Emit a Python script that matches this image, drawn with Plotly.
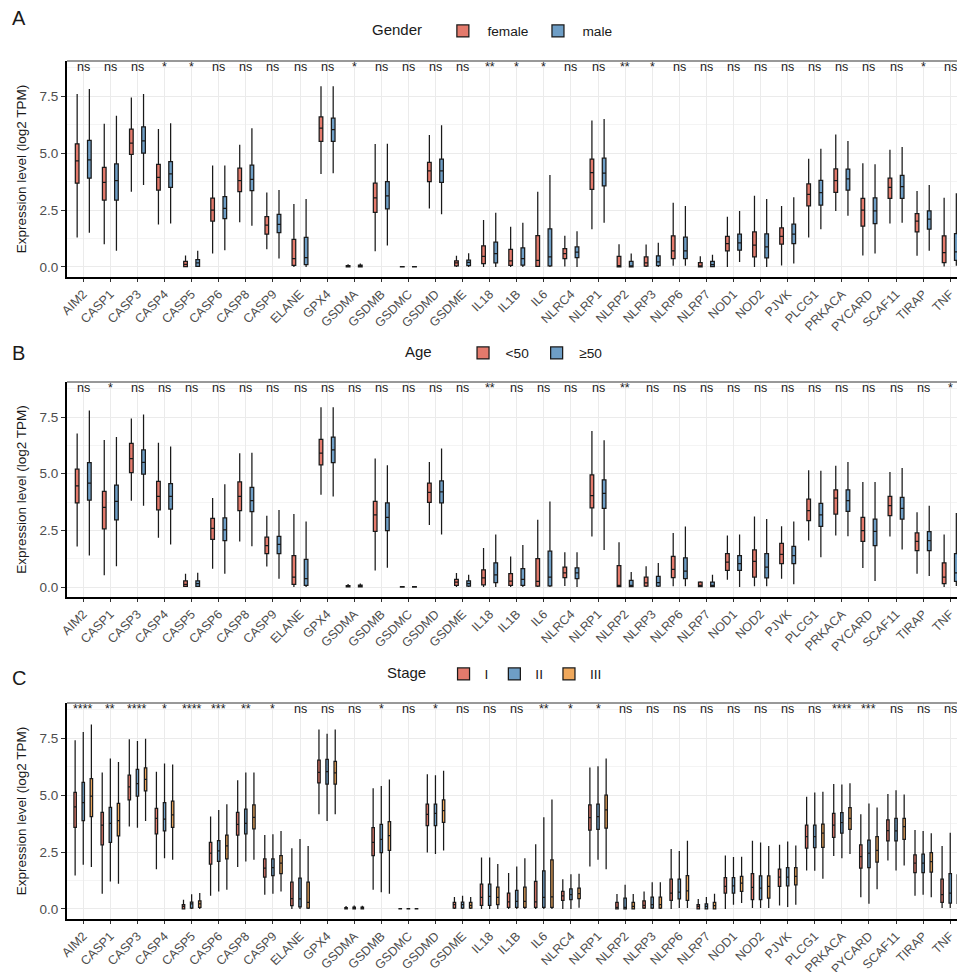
import plotly.graph_objects as go

genes = ["AIM2", "CASP1", "CASP3", "CASP4", "CASP5", "CASP6", "CASP8", "CASP9", "ELANE",
         "GPX4", "GSDMA", "GSDMB", "GSDMC", "GSDMD", "GSDME", "IL18", "IL1B", "IL6",
         "NLRC4", "NLRP1", "NLRP2", "NLRP3", "NLRP6", "NLRP7", "NOD1", "NOD2", "PJVK",
         "PLCG1", "PRKACA", "PYCARD", "SCAF11", "TIRAP", "TNF"]

# significance of group differences per gene
sig_gender = ["ns", "ns", "ns", "*", "*", "ns", "ns", "ns", "ns", "ns", "*", "ns", "ns", "ns", "ns",
              "**", "*", "*", "ns", "ns", "**", "*", "ns", "ns", "ns", "ns", "ns", "ns", "ns", "ns",
              "ns", "*", "ns"]
sig_age = ["ns", "*", "ns", "ns", "ns", "ns", "ns", "ns", "ns", "ns", "ns", "ns", "ns", "ns", "ns",
           "**", "ns", "ns", "ns", "ns", "**", "ns", "ns", "ns", "ns", "ns", "ns", "ns", "ns", "ns",
           "ns", "ns", "*"]
sig_stage = ["****", "**", "****", "*", "****", "***", "**", "*", "ns", "ns", "ns", "*", "ns", "*", "ns",
             "ns", "ns", "**", "*", "*", "ns", "ns", "ns", "ns", "ns", "ns", "ns", "ns", "****", "***",
             "ns", "ns", "ns"]

# ---- Gender: box statistics (log2 TPM) ----
female_low = [1.29, 1.0, 3.31, 1.87, 0.0, 0.59, 1.97, 0.78, 0.0, 4.09, 0.0, 0.69, 0.0, 2.57, 0.0, 0.0, 0.0,
              0.0, 0.02, 1.66, 0.0, 0.0, 0.05, 0.0, 0.0, 0.0, 0.07, 1.29, 2.46, 0.51, 1.91, 0.49, 0.02]
female_q1 = [3.68, 2.94, 4.95, 3.38, 0.02, 2.02, 3.31, 1.44, 0.07, 5.52, 0.01, 2.4, 0.0, 3.75, 0.05, 0.15, 0.07,
             0.03, 0.37, 3.41, 0.01, 0.04, 0.37, 0.01, 0.71, 0.44, 1.0, 2.68, 3.28, 1.79, 3.02, 1.54, 0.19]
female_med = [4.66, 3.72, 5.44, 3.94, 0.12, 2.5, 3.79, 1.84, 0.37, 6.1, 0.03, 3.04, 0.01, 4.22, 0.18, 0.47, 0.27,
              0.29, 0.59, 4.15, 0.06, 0.18, 0.71, 0.05, 1.03, 0.96, 1.35, 3.19, 3.79, 2.5, 3.5, 2.02, 0.63]
female_q3 = [5.41, 4.38, 6.06, 4.51, 0.25, 3.03, 4.34, 2.21, 1.21, 6.59, 0.06, 3.68, 0.02, 4.6, 0.27, 0.93, 0.77,
             1.38, 0.81, 4.74, 0.47, 0.44, 1.37, 0.19, 1.35, 1.54, 1.72, 3.65, 4.31, 3.02, 3.9, 2.35, 1.37]
female_high = [7.6, 6.29, 7.45, 6.06, 0.5, 4.46, 5.37, 3.27, 2.77, 7.94, 0.12, 5.4, 0.04, 5.8, 0.49, 2.06, 1.77,
               3.31, 1.37, 6.44, 1.0, 0.99, 2.82, 0.47, 2.21, 3.13, 2.68, 4.75, 5.82, 4.56, 5.15, 3.34, 3.04]

male_low = [1.5, 0.71, 3.6, 1.91, 0.0, 0.74, 1.81, 0.37, 0.0, 4.12, 0.0, 0.94, 0.0, 2.32, 0.0, 0.0, 0.0,
            0.0, 0.0, 1.94, 0.0, 0.0, 0.05, 0.0, 0.22, 0.0, 0.15, 1.66, 2.25, 0.59, 1.94, 0.71, 0.05]
male_q1 = [3.9, 2.94, 5.0, 3.5, 0.03, 2.13, 3.35, 1.51, 0.1, 5.52, 0.01, 2.55, 0.0, 3.72, 0.06, 0.18, 0.08,
           0.05, 0.41, 3.56, 0.01, 0.06, 0.37, 0.02, 0.74, 0.4, 1.03, 2.72, 3.38, 1.91, 3.02, 1.66, 0.29]
male_med = [4.71, 3.79, 5.54, 4.09, 0.18, 2.57, 3.85, 1.87, 0.41, 6.03, 0.04, 3.12, 0.01, 4.22, 0.2, 0.59, 0.37,
            0.44, 0.65, 4.12, 0.05, 0.22, 0.71, 0.1, 1.06, 0.88, 1.44, 3.27, 3.87, 2.46, 3.53, 2.1, 0.66]
male_q3 = [5.56, 4.53, 6.16, 4.63, 0.32, 3.09, 4.47, 2.31, 1.3, 6.54, 0.08, 3.75, 0.02, 4.74, 0.3, 1.09, 0.84,
           1.68, 0.88, 4.78, 0.25, 0.49, 1.31, 0.25, 1.44, 1.46, 1.88, 3.8, 4.3, 3.04, 4.02, 2.47, 1.47]
male_high = [7.82, 6.64, 7.6, 6.32, 0.71, 4.46, 6.1, 3.38, 2.99, 7.94, 0.15, 5.41, 0.04, 6.23, 0.6, 2.38, 1.94,
             4.04, 1.57, 6.5, 0.59, 1.06, 2.68, 0.54, 2.46, 2.99, 3.06, 5.19, 5.54, 4.51, 5.27, 3.6, 3.24]

# ---- Age ----
young_low = [1.79, 0.52, 3.81, 2.17, 0.0, 0.81, 2.01, 0.91, 0.0, 4.07, 0.0, 0.73, 0.0, 2.74, 0.0, 0.0, 0.0,
             0.0, 0.05, 2.23, 0.0, 0.0, 0.04, 0.0, 0.32, 0.04, 0.37, 2.05, 2.27, 0.84, 2.23, 0.59, 0.0]
young_q1 = [3.71, 2.57, 5.05, 3.41, 0.03, 2.1, 3.37, 1.47, 0.12, 5.39, 0.01, 2.46, 0.0, 3.74, 0.07, 0.1, 0.07,
            0.04, 0.41, 3.49, 0.02, 0.04, 0.41, 0.02, 0.73, 0.44, 1.03, 2.93, 3.22, 2.01, 3.15, 1.61, 0.15]
young_med = [4.47, 3.52, 5.67, 4.0, 0.12, 2.59, 4.0, 1.83, 0.44, 5.91, 0.03, 3.18, 0.01, 4.18, 0.22, 0.4, 0.26,
             0.25, 0.63, 4.03, 0.07, 0.18, 0.78, 0.07, 1.1, 1.13, 1.44, 3.37, 3.93, 2.49, 3.59, 2.01, 0.44]
young_q3 = [5.2, 4.22, 6.34, 4.66, 0.27, 3.03, 4.64, 2.2, 1.39, 6.52, 0.06, 3.78, 0.02, 4.59, 0.34, 0.76, 0.59,
            1.25, 0.88, 4.95, 0.95, 0.44, 1.35, 0.22, 1.47, 1.64, 1.93, 3.88, 4.29, 3.08, 4.0, 2.39, 1.07]
young_high = [6.78, 6.49, 7.44, 6.37, 0.59, 3.93, 5.91, 3.15, 3.22, 7.94, 0.13, 5.67, 0.04, 5.52, 0.62, 1.72, 1.35,
              2.97, 1.54, 6.89, 1.98, 0.92, 2.39, 0.26, 2.27, 3.11, 2.68, 5.16, 5.35, 4.64, 5.08, 3.3, 2.32]

older_low = [1.39, 0.92, 3.59, 1.88, 0.0, 0.59, 1.8, 0.37, 0.0, 4.0, 0.0, 0.85, 0.0, 2.32, 0.0, 0.0, 0.0,
             0.0, 0.0, 1.64, 0.0, 0.0, 0.04, 0.0, 0.0, 0.04, 0.12, 1.32, 2.24, 0.27, 1.66, 0.49, 0.05]
older_q1 = [3.84, 2.96, 4.98, 3.44, 0.03, 2.05, 3.33, 1.47, 0.07, 5.49, 0.01, 2.49, 0.0, 3.71, 0.04, 0.19, 0.07,
            0.05, 0.37, 3.47, 0.02, 0.04, 0.37, 0.02, 0.73, 0.4, 1.03, 2.68, 3.34, 1.83, 3.0, 1.61, 0.25]
older_med = [4.59, 3.78, 5.5, 4.0, 0.15, 2.52, 3.81, 1.88, 0.37, 6.05, 0.04, 3.08, 0.01, 4.2, 0.15, 0.54, 0.34,
             0.44, 0.62, 4.13, 0.07, 0.19, 0.7, 0.07, 1.03, 0.88, 1.39, 3.18, 3.81, 2.46, 3.47, 2.05, 0.63]
older_q3 = [5.49, 4.5, 6.05, 4.57, 0.27, 3.05, 4.4, 2.24, 1.22, 6.62, 0.08, 3.71, 0.02, 4.69, 0.27, 1.07, 0.81,
            1.58, 0.85, 4.73, 0.29, 0.47, 1.29, 0.22, 1.39, 1.47, 1.8, 3.69, 4.29, 3.0, 3.96, 2.45, 1.47]
older_high = [7.79, 6.62, 7.62, 6.2, 0.63, 4.54, 5.93, 3.4, 2.89, 7.94, 0.16, 5.38, 0.04, 6.11, 0.54, 2.32, 1.86,
              3.78, 1.54, 6.48, 0.66, 1.06, 2.67, 0.54, 2.32, 3.0, 2.89, 5.13, 5.52, 4.64, 5.25, 3.59, 3.27]

# ---- Stage ----
stage1_low = [1.47, 0.67, 3.62, 1.75, 0.0, 0.58, 1.84, 0.63, 0.0, 4.16, 0.0, 0.85, 0.0, 2.48, 0.0, 0.0, 0.0,
              0.0, 0.0, 1.87, 0.0, 0.0, 0.0, 0.0, 0.0, 0.04, 0.15, 1.69, 2.33, 0.52, 2.13, 0.58, 0.04]
stage1_q1 = [3.59, 2.82, 4.79, 3.3, 0.01, 1.97, 3.25, 1.4, 0.15, 5.54, 0.01, 2.35, 0.0, 3.66, 0.04, 0.16, 0.07,
             0.07, 0.38, 3.47, 0.01, 0.04, 0.38, 0.01, 0.7, 0.41, 0.99, 2.67, 3.15, 1.79, 2.99, 1.6, 0.29]
stage1_med = [4.49, 3.69, 5.37, 3.98, 0.12, 2.45, 3.72, 1.79, 0.45, 6.0, 0.03, 2.93, 0.01, 4.16, 0.19, 0.51, 0.31,
              0.31, 0.58, 4.01, 0.07, 0.16, 0.7, 0.12, 0.99, 0.95, 1.4, 3.18, 3.69, 2.3, 3.44, 2.01, 0.63]
stage1_q3 = [5.12, 4.25, 5.88, 4.42, 0.19, 2.93, 4.25, 2.2, 1.18, 6.54, 0.06, 3.57, 0.02, 4.61, 0.29, 1.09, 0.7,
             1.21, 0.77, 4.57, 0.29, 0.36, 1.31, 0.19, 1.38, 1.55, 1.75, 3.69, 4.2, 2.82, 3.91, 2.38, 1.31]
stage1_high = [7.41, 6.0, 7.46, 6.03, 0.41, 4.06, 5.66, 3.25, 2.67, 7.89, 0.13, 5.3, 0.04, 5.92, 0.53, 2.26, 1.58,
               2.84, 1.31, 6.22, 0.66, 0.77, 2.64, 0.44, 2.35, 3.0, 2.82, 4.93, 5.49, 4.16, 5.05, 3.47, 2.77]

stage2_low = [1.94, 1.21, 3.57, 2.23, 0.0, 0.77, 2.09, 0.67, 0.0, 3.87, 0.0, 0.73, 0.0, 2.42, 0.0, 0.0, 0.0,
              0.0, 0.0, 2.16, 0.0, 0.0, 0.04, 0.0, 0.19, 0.04, 0.09, 1.68, 2.23, 0.23, 1.69, 0.63, 0.04]
stage2_q1 = [3.88, 2.93, 4.96, 3.43, 0.04, 2.09, 3.3, 1.47, 0.09, 5.49, 0.01, 2.48, 0.0, 3.66, 0.04, 0.16, 0.07,
             0.07, 0.41, 3.5, 0.01, 0.04, 0.44, 0.01, 0.7, 0.41, 1.02, 2.7, 3.33, 1.82, 2.99, 1.6, 0.26]
stage2_med = [4.67, 3.76, 5.51, 3.95, 0.22, 2.55, 3.76, 1.82, 0.44, 6.03, 0.04, 3.06, 0.01, 4.2, 0.19, 0.55, 0.34,
              0.51, 0.63, 4.06, 0.07, 0.19, 0.74, 0.12, 1.02, 0.92, 1.4, 3.18, 3.79, 2.45, 3.43, 2.01, 0.7]
stage2_q3 = [5.56, 4.46, 6.13, 4.67, 0.3, 3.0, 4.39, 2.2, 1.36, 6.57, 0.08, 3.72, 0.02, 4.61, 0.3, 1.09, 0.82,
             1.68, 0.88, 4.61, 0.48, 0.52, 1.31, 0.22, 1.38, 1.46, 1.82, 3.69, 4.23, 3.03, 3.98, 2.41, 1.55]
stage2_high = [7.78, 6.61, 7.38, 6.39, 0.65, 4.35, 6.0, 3.28, 3.08, 7.7, 0.15, 5.4, 0.04, 5.88, 0.58, 2.26, 1.87,
               4.03, 1.53, 6.27, 1.06, 1.18, 2.55, 0.53, 2.28, 2.92, 2.96, 5.12, 5.47, 4.64, 5.22, 3.43, 3.35]

stage3_low = [1.84, 1.11, 3.87, 2.16, 0.0, 0.85, 2.16, 0.77, 0.0, 4.16, 0.0, 0.67, 0.0, 2.57, 0.0, 0.0, 0.0,
              0.0, 0.05, 1.75, 0.0, 0.0, 0.04, 0.0, 0.26, 0.04, 0.19, 1.33, 2.42, 0.87, 1.91, 0.52, 0.04]
stage3_q1 = [4.06, 3.21, 5.19, 3.59, 0.07, 2.2, 3.52, 1.55, 0.04, 5.49, 0.01, 2.57, 0.0, 3.81, 0.04, 0.19, 0.07,
             0.07, 0.45, 3.55, 0.01, 0.04, 0.38, 0.01, 0.77, 0.48, 1.06, 2.71, 3.5, 2.06, 3.06, 1.62, 0.25]
stage3_med = [4.96, 3.88, 5.7, 4.13, 0.23, 2.77, 4.03, 2.01, 0.29, 5.98, 0.04, 3.22, 0.01, 4.32, 0.16, 0.51, 0.34,
              0.53, 0.67, 4.35, 0.12, 0.19, 0.8, 0.15, 1.14, 0.99, 1.43, 3.33, 3.98, 2.57, 3.62, 2.08, 0.65]
stage3_q3 = [5.73, 4.64, 6.2, 4.74, 0.36, 3.25, 4.57, 2.35, 1.18, 6.49, 0.08, 3.84, 0.02, 4.79, 0.29, 0.96, 0.96,
             2.16, 0.92, 5.0, 0.29, 0.52, 1.47, 0.29, 1.43, 1.46, 1.82, 3.73, 4.45, 3.18, 3.98, 2.48, 1.5]
stage3_high = [8.11, 6.46, 7.48, 6.35, 0.7, 4.6, 6.0, 3.43, 2.77, 7.89, 0.14, 5.69, 0.04, 6.07, 0.53, 1.98, 2.23,
               4.81, 1.55, 6.61, 0.66, 1.18, 3.0, 0.67, 2.3, 2.77, 2.79, 5.15, 5.52, 4.46, 5.03, 3.33, 3.2]

RED, BLUE, ORANGE = "#E47A6C", "#6E9EC6", "#EFA85C"
FONT = "Arial, Liberation Sans, Helvetica, sans-serif"
W, H = 957, 972
NB = "\u00a0"

panels = [
    dict(letter="A", title="Gender", pad=2, itemwidth=39, sig=sig_gender, top=61, bottom=277, letter_y=18,
         legend_x=370, legend_y=31,
         groups=[("female", RED, female_low, female_q1, female_med, female_q3, female_high),
                 ("male", BLUE, male_low, male_q1, male_med, male_q3, male_high)]),
    dict(letter="B", title="Age", pad=5, itemwidth=35, sig=sig_age, top=382, bottom=597, letter_y=353,
         legend_x=403, legend_y=353,
         groups=[("<50", RED, young_low, young_q1, young_med, young_q3, young_high),
                 ("\u226550", BLUE, older_low, older_q1, older_med, older_q3, older_high)]),
    dict(letter="C", title="Stage", pad=2, itemwidth=32, sig=sig_stage, top=703, bottom=919, letter_y=678,
         legend_x=385, legend_y=674,
         groups=[("I", RED, stage1_low, stage1_q1, stage1_med, stage1_q3, stage1_high),
                 ("II", BLUE, stage2_low, stage2_q1, stage2_med, stage2_q3, stage2_high),
                 ("III", ORANGE, stage3_low, stage3_q1, stage3_med, stage3_q3, stage3_high)]),
]

fig = go.Figure()
layout = dict(
    width=W, height=H, margin=dict(l=0, r=0, t=0, b=0, autoexpand=False),
    paper_bgcolor="white", plot_bgcolor="white",
    boxmode="group", boxgap=0.1, boxgroupgap=0.7,
    font=dict(family=FONT, color="#1a1a1a"),
    annotations=[], shapes=[],
)

Y_RANGE = [-0.44, 9.05]

for i, p in enumerate(panels):
    n = "" if i == 0 else str(i + 1)
    xa, ya, lg = "x" + n, "y" + n, "legend" + n
    for j, (name, color, lo, q1, med, q3, hi) in enumerate(p["groups"]):
        fig.add_trace(go.Box(
            x=genes, q1=q1, median=med, q3=q3, lowerfence=lo, upperfence=hi,
            name=name, xaxis=xa, yaxis=ya, legend=lg,
            alignmentgroup="panel" + p["letter"], offsetgroup=str(j),
            fillcolor=color, line=dict(color="#1a1a1a", width=1.25),
            whiskerwidth=0, boxpoints=False, hoverinfo="skip",
        ))

    dom = [1 - p["bottom"] / H, 1 - p["top"] / H]
    layout["xaxis" + n] = dict(
        domain=[67 / W, 1], anchor=ya, type="category", range=[-0.6, 32.25], automargin=False,
        tickangle=-45, tickfont=dict(size=12.5, color="#4D4D4D"),
        showgrid=True, gridcolor="#EBEBEB", gridwidth=1.1,
        showline=True, linecolor="black", linewidth=1.8,
        ticks="outside", ticklen=3, tickcolor="#333333", tickwidth=1.1,
        zeroline=False, fixedrange=True,
    )
    layout["yaxis" + n] = dict(
        domain=dom, anchor=xa, range=Y_RANGE, tick0=0, dtick=2.5, tickformat=".1f", automargin=False,
        tickfont=dict(size=13.5, color="#4D4D4D"),
        showgrid=True, gridcolor="#EBEBEB", gridwidth=1.1,
        minor=dict(dtick=1.25, tick0=0, showgrid=True, gridcolor="#F4F4F4", gridwidth=0.8),
        showline=True, linecolor="black", linewidth=1.8,
        ticks="outside", ticklen=4, tickcolor="#333333", tickwidth=1.1,
        zeroline=False, fixedrange=True,
        title=dict(text="Expression level (log2 TPM)", font=dict(size=13.5, color="#1a1a1a"), standoff=10),
    )
    layout[lg] = dict(
        title=dict(text=p["title"] + NB * p["pad"], side="left", font=dict(size=15, color="#1a1a1a")),
        orientation="h", x=p["legend_x"] / W, xanchor="left",
        y=1 - p["legend_y"] / H, yanchor="middle", itemwidth=p["itemwidth"],
        font=dict(size=13.7, color="#1a1a1a"), bgcolor="rgba(0,0,0,0)",
        itemclick=False, itemdoubleclick=False,
    )
    # panel border on top
    layout["shapes"].append(dict(type="line", xref=xa + " domain", yref=ya + " domain",
                                 x0=0, x1=1, y0=1, y1=1, line=dict(color="#333333", width=1)))
    # significance labels
    for g, s in zip(genes, p["sig"]):
        layout["annotations"].append(dict(x=g, y=8.78, xref=xa, yref=ya, text=s, showarrow=False,
                                          font=dict(size=12.5, color="#1a1a1a"), yanchor="middle"))
    # panel letter
    layout["annotations"].append(dict(x=10 / W, y=1 - p["letter_y"] / H, xref="paper", yref="paper",
                                      text=p["letter"], showarrow=False, xanchor="left", yanchor="middle",
                                      font=dict(size=20, color="#1a1a1a")))

fig.update_layout(**layout)
fig.write_html("out.html")
